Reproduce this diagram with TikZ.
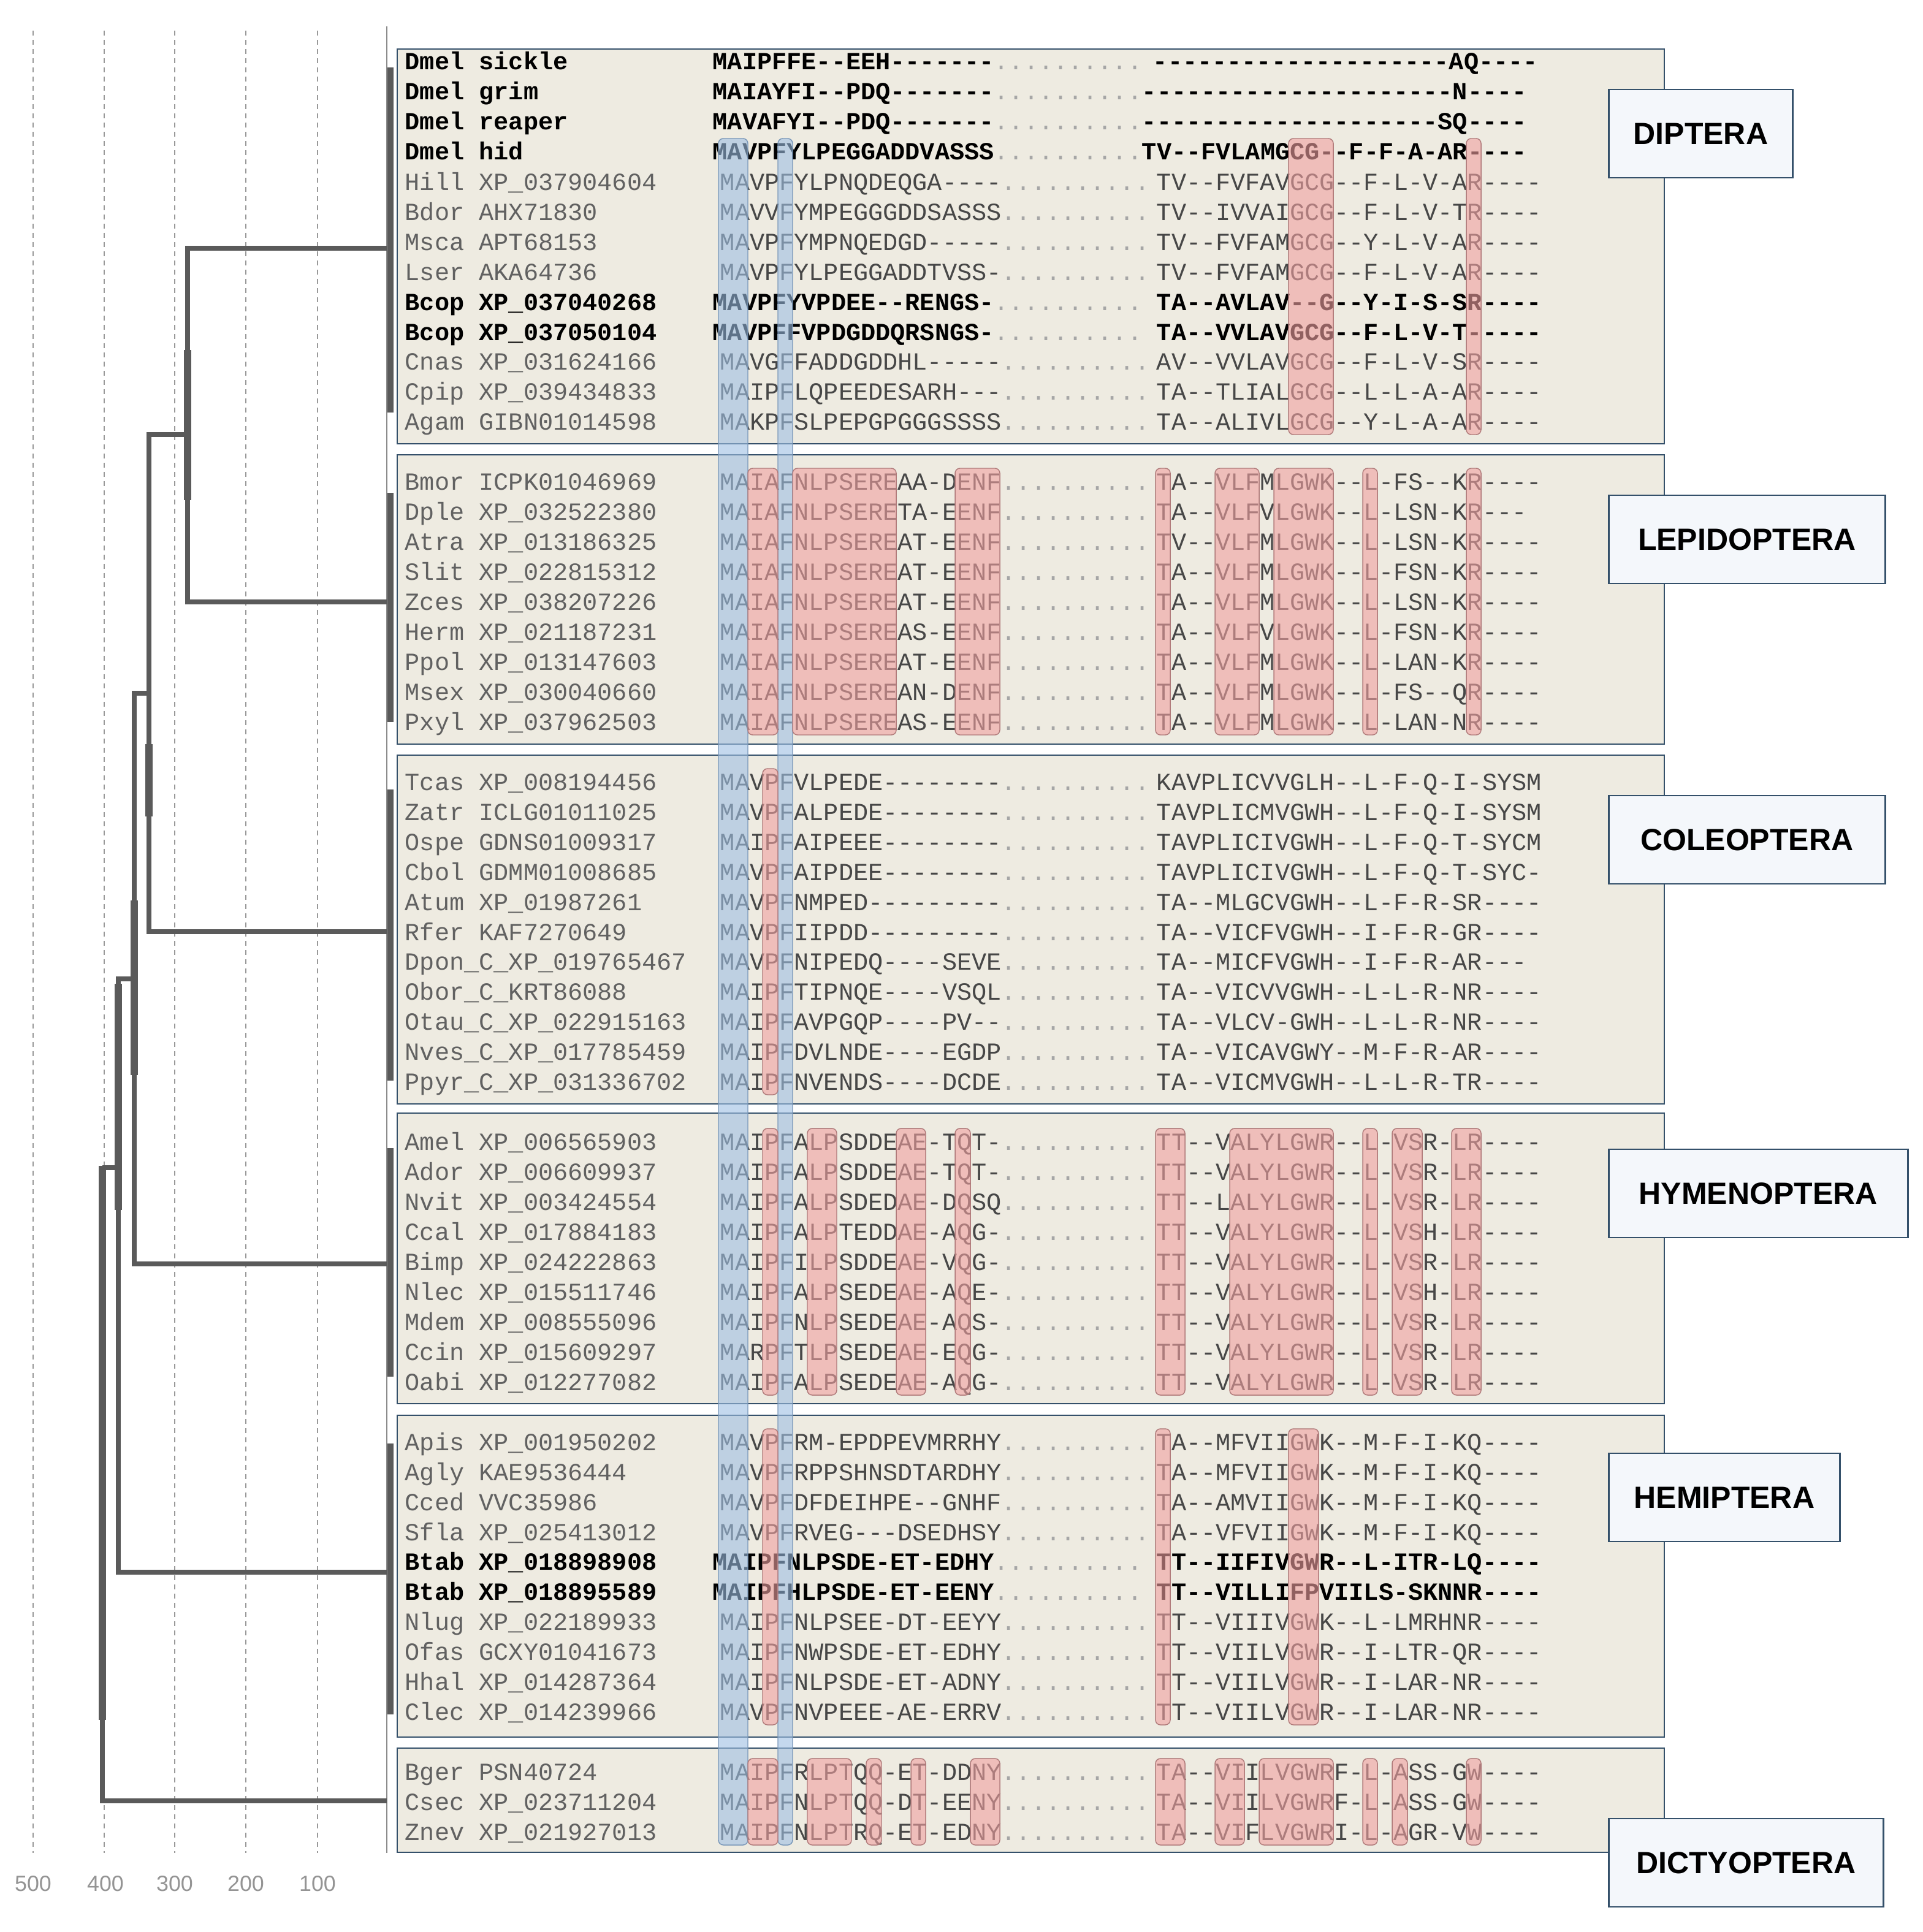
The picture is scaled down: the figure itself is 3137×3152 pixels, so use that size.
\documentclass[tikz,border=0pt]{standalone}
\usepackage{fontspec}
\newfontfamily\seqfont{Liberation Mono}
\newfontfamily\labfont{Liberation Sans}
\definecolor{panelfill}{HTML}{EEEBE1}
\definecolor{panelline}{HTML}{34506A}
\definecolor{treegray}{HTML}{5A5A5A}
\definecolor{pinkfill}{HTML}{F0A0A0}
\definecolor{pinkline}{HTML}{B07A7A}
\definecolor{bluefill}{HTML}{9EBFE3}
\definecolor{blueline}{HTML}{7896B8}
\definecolor{labelfill}{HTML}{F4F7FB}
\newcommand{\gapdots}{\textcolor{black!35}{\mdseries..........}}

\begin{document}
\begin{tikzpicture}[x=0.24pt, y=-0.24pt,
  tree line/.style={line width=2.1pt, treegray, line join=miter},
  node bar/.style={line width=3.1pt, treegray},
  clade bar/.style={line width=2.4pt, treegray},
  grid line/.style={line width=0.45pt, black!40, dash pattern=on 1.9pt off 1.7pt},
  axis line/.style={line width=0.5pt, black!45},
  axis label/.style={font=\labfont\fontsize{8.6}{10}\selectfont, text=black!42},
  panel/.style={fill=panelfill, draw=panelline, line width=0.65pt},
  seq name/.style={anchor=base west, inner sep=0pt, font=\seqfont\fontsize{9.66}{11}\selectfont, text=black!62},
  seq text/.style={seq name, text=black!72},
  bold name/.style={seq name, font=\seqfont\bfseries\fontsize{9.66}{11}\selectfont, text=black},
  pink box/.style={draw=pinkline, fill=pinkfill, fill opacity=0.6, line width=0.35pt, rounded corners=1.9pt},
  blue box/.style={draw=blueline, fill=bluefill, fill opacity=0.6, line width=0.35pt, rounded corners=1.9pt},
  group label/.style={draw=panelline, fill=labelfill, line width=0.65pt, anchor=west, minimum height=34.6pt, inner sep=0pt, font=\labfont\bfseries\fontsize{12}{14}\selectfont}
]
\useasboundingbox (0,0) rectangle (3137,3152);
\fill[white] (0,0) rectangle (3137,3152);

% time axis
\draw[grid line] (54,50) -- (54,3023);
\draw[grid line] (170,50) -- (170,3023);
\draw[grid line] (285,50) -- (285,3023);
\draw[grid line] (401,50) -- (401,3023);
\draw[grid line] (518,50) -- (518,3023);
\node[axis label] (t500) at (54,3073) {500};
\node[axis label] (t400) at (172,3073) {400};
\node[axis label] (t300) at (285,3073) {300};
\node[axis label] (t200) at (401,3073) {200};
\node[axis label] (t100) at (518,3073) {100};

% alignment panels
\draw[panel] (648,80) rectangle (2715,724);
\draw[panel] (648,742) rectangle (2715,1214);
\draw[panel] (648,1232) rectangle (2715,1801);
\draw[panel] (648,1816) rectangle (2715,2290);
\draw[panel] (648,2309) rectangle (2715,2834);
\draw[panel] (648,2852) rectangle (2715,3022);

\draw[axis line] (631,43) -- (631,3023);

% tree
\coordinate (nA) at (306,709);
\coordinate (nB) at (243,1131);
\coordinate (nC) at (219,1597);
\coordinate (nD) at (193,1905);
\coordinate (nE) at (167,1905);
\coordinate (tDip) at (631,405);
\coordinate (tLep) at (631,982);
\coordinate (tCol) at (631,1520);
\coordinate (tHym) at (631,2062);
\coordinate (tHem) at (631,2565);
\coordinate (tDic) at (631,2938);
\draw[tree line] (nA) |- (tDip);
\draw[tree line] (nA) |- (tLep);
\draw[tree line] (nB) |- (nA);
\draw[tree line] (nB) |- (tCol);
\draw[tree line] (nC) |- (nB);
\draw[tree line] (nC) |- (tHym);
\draw[tree line] (nD) |- (nC);
\draw[tree line] (nD) |- (tHem);
\draw[tree line] (nE) |- (nD);
\draw[tree line] (nE) |- (tDic);
\draw[node bar] (306,571) -- (306,816);
\draw[node bar] (243,1214) -- (243,1332);
\draw[node bar] (219,1469) -- (219,1754);
\draw[node bar] (193,1605) -- (193,1974);
\draw[node bar] (167,1902) -- (167,2806);
\draw[clade bar] (637,110) -- (637,673);
\draw[clade bar] (637,804) -- (637,1178);
\draw[clade bar] (637,1288) -- (637,1763);
\draw[clade bar] (637,1873) -- (637,2246);
\draw[clade bar] (637,2355) -- (637,2797);

% Diptera
\node[bold name] (r0n) at (660,114) {Dmel sickle};
\node[bold name] (r0a) at (1162,114) {MAIPFFE--EEH-------\gapdots};
\node[bold name] (r0b) at (1880,114) {--------------------AQ----};
\node[bold name] (r1n) at (660,163) {Dmel grim};
\node[bold name] (r1a) at (1162,163) {MAIAYFI--PDQ-------\gapdots};
\node[bold name] (r1b) at (1862,163) {---------------------N----};
\node[bold name] (r2n) at (660,212) {Dmel reaper};
\node[bold name] (r2a) at (1162,212) {MAVAFYI--PDQ-------\gapdots};
\node[bold name] (r2b) at (1862,212) {--------------------SQ----};
\node[bold name] (r3n) at (660,261) {Dmel hid};
\node[bold name] (r3a) at (1162,261) {MAVPFYLPEGGADDVASSS\gapdots};
\node[bold name] (r3b) at (1862,261) {TV--FVLAMGCG--F-F-A-AR----};
\node[seq name] (r4n) at (660,310) {Hill XP\_037904604};
\node[seq text] (r4a) at (1174,310) {MAVPFYLPNQDEQGA----\gapdots};
\node[seq text] (r4b) at (1886,310) {TV--FVFAVGCG--F-L-V-AR----};
\node[seq name] (r5n) at (660,359) {Bdor AHX71830};
\node[seq text] (r5a) at (1174,359) {MAVVFYMPEGGGDDSASSS\gapdots};
\node[seq text] (r5b) at (1886,359) {TV--IVVAIGCG--F-L-V-TR----};
\node[seq name] (r6n) at (660,408) {Msca APT68153};
\node[seq text] (r6a) at (1174,408) {MAVPFYMPNQEDGD-----\gapdots};
\node[seq text] (r6b) at (1886,408) {TV--FVFAMGCG--Y-L-V-AR----};
\node[seq name] (r7n) at (660,457) {Lser AKA64736};
\node[seq text] (r7a) at (1174,457) {MAVPFYLPEGGADDTVSS-\gapdots};
\node[seq text] (r7b) at (1886,457) {TV--FVFAMGCG--F-L-V-AR----};
\node[bold name] (r8n) at (660,506) {Bcop XP\_037040268};
\node[bold name] (r8a) at (1162,506) {MAVPFYVPDEE--RENGS-\gapdots};
\node[bold name] (r8b) at (1886,506) {TA--AVLAV--G--Y-I-S-SR----};
\node[bold name] (r9n) at (660,555) {Bcop XP\_037050104};
\node[bold name] (r9a) at (1162,555) {MAVPFFVPDGDDQRSNGS-\gapdots};
\node[bold name] (r9b) at (1886,555) {TA--VVLAVGCG--F-L-V-T-----};
\node[seq name] (r10n) at (660,603.5) {Cnas XP\_031624166};
\node[seq text] (r10a) at (1174,603.5) {MAVGFFADDGDDHL-----\gapdots};
\node[seq text] (r10b) at (1886,603.5) {AV--VVLAVGCG--F-L-V-SR----};
\node[seq name] (r11n) at (660,652) {Cpip XP\_039434833};
\node[seq text] (r11a) at (1174,652) {MAIPFLQPEEDESARH---\gapdots};
\node[seq text] (r11b) at (1886,652) {TA--TLIALGCG--L-L-A-AR----};
\node[seq name] (r12n) at (660,701) {Agam GIBN01014598};
\node[seq text] (r12a) at (1174,701) {MAKPFSLPEPGPGGGSSSS\gapdots};
\node[seq text] (r12b) at (1886,701) {TA--ALIVLGCG--Y-L-A-AR----};

% Lepidoptera
\node[seq name] (r14n) at (660,799) {Bmor ICPK01046969};
\node[seq text] (r14a) at (1174,799) {MAIAFNLPSEREAA-DENF\gapdots};
\node[seq text] (r14b) at (1886,799) {TA--VLFMLGWK--L-FS--KR----};
\node[seq name] (r15n) at (660,848) {Dple XP\_032522380};
\node[seq text] (r15a) at (1174,848) {MAIAFNLPSERETA-EENF\gapdots};
\node[seq text] (r15b) at (1886,848) {TA--VLFVLGWK--L-LSN-KR---};
\node[seq name] (r16n) at (660,897) {Atra XP\_013186325};
\node[seq text] (r16a) at (1174,897) {MAIAFNLPSEREAT-EENF\gapdots};
\node[seq text] (r16b) at (1886,897) {TV--VLFMLGWK--L-LSN-KR----};
\node[seq name] (r17n) at (660,946) {Slit XP\_022815312};
\node[seq text] (r17a) at (1174,946) {MAIAFNLPSEREAT-EENF\gapdots};
\node[seq text] (r17b) at (1886,946) {TA--VLFMLGWK--L-FSN-KR----};
\node[seq name] (r18n) at (660,995) {Zces XP\_038207226};
\node[seq text] (r18a) at (1174,995) {MAIAFNLPSEREAT-EENF\gapdots};
\node[seq text] (r18b) at (1886,995) {TA--VLFMLGWK--L-LSN-KR----};
\node[seq name] (r19n) at (660,1044) {Herm XP\_021187231};
\node[seq text] (r19a) at (1174,1044) {MAIAFNLPSEREAS-EENF\gapdots};
\node[seq text] (r19b) at (1886,1044) {TA--VLFVLGWK--L-FSN-KR----};
\node[seq name] (r20n) at (660,1093) {Ppol XP\_013147603};
\node[seq text] (r20a) at (1174,1093) {MAIAFNLPSEREAT-EENF\gapdots};
\node[seq text] (r20b) at (1886,1093) {TA--VLFMLGWK--L-LAN-KR----};
\node[seq name] (r21n) at (660,1142) {Msex XP\_030040660};
\node[seq text] (r21a) at (1174,1142) {MAIAFNLPSEREAN-DENF\gapdots};
\node[seq text] (r21b) at (1886,1142) {TA--VLFMLGWK--L-FS--QR----};
\node[seq name] (r22n) at (660,1191) {Pxyl XP\_037962503};
\node[seq text] (r22a) at (1174,1191) {MAIAFNLPSEREAS-EENF\gapdots};
\node[seq text] (r22b) at (1886,1191) {TA--VLFMLGWK--L-LAN-NR----};

% Coleoptera
\node[seq name] (r24n) at (660,1289) {Tcas XP\_008194456};
\node[seq text] (r24a) at (1174,1289) {MAVPFVLPEDE--------\gapdots};
\node[seq text] (r24b) at (1886,1289) {KAVPLICVVGLH--L-F-Q-I-SYSM};
\node[seq name] (r25n) at (660,1338) {Zatr ICLG01011025};
\node[seq text] (r25a) at (1174,1338) {MAVPFALPEDE--------\gapdots};
\node[seq text] (r25b) at (1886,1338) {TAVPLICMVGWH--L-F-Q-I-SYSM};
\node[seq name] (r26n) at (660,1387) {Ospe GDNS01009317};
\node[seq text] (r26a) at (1174,1387) {MAIPFAIPEEE--------\gapdots};
\node[seq text] (r26b) at (1886,1387) {TAVPLICIVGWH--L-F-Q-T-SYCM};
\node[seq name] (r27n) at (660,1436) {Cbol GDMM01008685};
\node[seq text] (r27a) at (1174,1436) {MAVPFAIPDEE--------\gapdots};
\node[seq text] (r27b) at (1886,1436) {TAVPLICIVGWH--L-F-Q-T-SYC-};
\node[seq name] (r28n) at (660,1485) {Atum XP\_01987261};
\node[seq text] (r28a) at (1174,1485) {MAVPFNMPED---------\gapdots};
\node[seq text] (r28b) at (1886,1485) {TA--MLGCVGWH--L-F-R-SR----};
\node[seq name] (r29n) at (660,1534) {Rfer KAF7270649};
\node[seq text] (r29a) at (1174,1534) {MAVPFIIPDD---------\gapdots};
\node[seq text] (r29b) at (1886,1534) {TA--VICFVGWH--I-F-R-GR----};
\node[seq name] (r30n) at (660,1582) {Dpon\_C\_XP\_019765467};
\node[seq text] (r30a) at (1174,1582) {MAVPFNIPEDQ----SEVE\gapdots};
\node[seq text] (r30b) at (1886,1582) {TA--MICFVGWH--I-F-R-AR---};
\node[seq name] (r31n) at (660,1631) {Obor\_C\_KRT86088};
\node[seq text] (r31a) at (1174,1631) {MAIPFTIPNQE----VSQL\gapdots};
\node[seq text] (r31b) at (1886,1631) {TA--VICVVGWH--L-L-R-NR----};
\node[seq name] (r32n) at (660,1680) {Otau\_C\_XP\_022915163};
\node[seq text] (r32a) at (1174,1680) {MAIPFAVPGQP----PV--\gapdots};
\node[seq text] (r32b) at (1886,1680) {TA--VLCV-GWH--L-L-R-NR----};
\node[seq name] (r33n) at (660,1729) {Nves\_C\_XP\_017785459};
\node[seq text] (r33a) at (1174,1729) {MAIPFDVLNDE----EGDP\gapdots};
\node[seq text] (r33b) at (1886,1729) {TA--VICAVGWY--M-F-R-AR----};
\node[seq name] (r34n) at (660,1778) {Ppyr\_C\_XP\_031336702};
\node[seq text] (r34a) at (1174,1778) {MAIPFNVENDS----DCDE\gapdots};
\node[seq text] (r34b) at (1886,1778) {TA--VICMVGWH--L-L-R-TR----};

% Hymenoptera
\node[seq name] (r36n) at (660,1876) {Amel XP\_006565903};
\node[seq text] (r36a) at (1174,1876) {MAIPFALPSDDEAE-TQT-\gapdots};
\node[seq text] (r36b) at (1886,1876) {TT--VALYLGWR--L-VSR-LR----};
\node[seq name] (r37n) at (660,1925) {Ador XP\_006609937};
\node[seq text] (r37a) at (1174,1925) {MAIPFALPSDDEAE-TQT-\gapdots};
\node[seq text] (r37b) at (1886,1925) {TT--VALYLGWR--L-VSR-LR----};
\node[seq name] (r38n) at (660,1974) {Nvit XP\_003424554};
\node[seq text] (r38a) at (1174,1974) {MAIPFALPSDEDAE-DQSQ\gapdots};
\node[seq text] (r38b) at (1886,1974) {TT--LALYLGWR--L-VSR-LR----};
\node[seq name] (r39n) at (660,2023) {Ccal XP\_017884183};
\node[seq text] (r39a) at (1174,2023) {MAIPFALPTEDDAE-AQG-\gapdots};
\node[seq text] (r39b) at (1886,2023) {TT--VALYLGWR--L-VSH-LR----};
\node[seq name] (r40n) at (660,2072) {Bimp XP\_024222863};
\node[seq text] (r40a) at (1174,2072) {MAIPFILPSDDEAE-VQG-\gapdots};
\node[seq text] (r40b) at (1886,2072) {TT--VALYLGWR--L-VSR-LR----};
\node[seq name] (r41n) at (660,2121) {Nlec XP\_015511746};
\node[seq text] (r41a) at (1174,2121) {MAIPFALPSEDEAE-AQE-\gapdots};
\node[seq text] (r41b) at (1886,2121) {TT--VALYLGWR--L-VSH-LR----};
\node[seq name] (r42n) at (660,2170) {Mdem XP\_008555096};
\node[seq text] (r42a) at (1174,2170) {MAIPFNLPSEDEAE-AQS-\gapdots};
\node[seq text] (r42b) at (1886,2170) {TT--VALYLGWR--L-VSR-LR----};
\node[seq name] (r43n) at (660,2219) {Ccin XP\_015609297};
\node[seq text] (r43a) at (1174,2219) {MARPFTLPSEDEAE-EQG-\gapdots};
\node[seq text] (r43b) at (1886,2219) {TT--VALYLGWR--L-VSR-LR----};
\node[seq name] (r44n) at (660,2268) {Oabi XP\_012277082};
\node[seq text] (r44a) at (1174,2268) {MAIPFALPSEDEAE-AQG-\gapdots};
\node[seq text] (r44b) at (1886,2268) {TT--VALYLGWR--L-VSR-LR----};

% Hemiptera
\node[seq name] (r46n) at (660,2366) {Apis XP\_001950202};
\node[seq text] (r46a) at (1174,2366) {MAVPFRM-EPDPEVMRRHY\gapdots};
\node[seq text] (r46b) at (1886,2366) {TA--MFVIIGWK--M-F-I-KQ----};
\node[seq name] (r47n) at (660,2415) {Agly KAE9536444};
\node[seq text] (r47a) at (1174,2415) {MAVPFRPPSHNSDTARDHY\gapdots};
\node[seq text] (r47b) at (1886,2415) {TA--MFVIIGWK--M-F-I-KQ----};
\node[seq name] (r48n) at (660,2464) {Cced VVC35986};
\node[seq text] (r48a) at (1174,2464) {MAVPFDFDEIHPE--GNHF\gapdots};
\node[seq text] (r48b) at (1886,2464) {TA--AMVIIGWK--M-F-I-KQ----};
\node[seq name] (r49n) at (660,2513) {Sfla XP\_025413012};
\node[seq text] (r49a) at (1174,2513) {MAVPFRVEG---DSEDHSY\gapdots};
\node[seq text] (r49b) at (1886,2513) {TA--VFVIIGWK--M-F-I-KQ----};
\node[bold name] (r50n) at (660,2561) {Btab XP\_018898908};
\node[bold name] (r50a) at (1162,2561) {MAIPFNLPSDE-ET-EDHY\gapdots};
\node[bold name] (r50b) at (1886,2561) {TT--IIFIVGWR--L-ITR-LQ----};
\node[bold name] (r51n) at (660,2610) {Btab XP\_018895589};
\node[bold name] (r51a) at (1162,2610) {MAIPFHLPSDE-ET-EENY\gapdots};
\node[bold name] (r51b) at (1886,2610) {TT--VILLIFPVIILS-SKNNR----};
\node[seq name] (r52n) at (660,2659) {Nlug XP\_022189933};
\node[seq text] (r52a) at (1174,2659) {MAIPFNLPSEE-DT-EEYY\gapdots};
\node[seq text] (r52b) at (1886,2659) {TT--VIIIVGWK--L-LMRHNR----};
\node[seq name] (r53n) at (660,2708) {Ofas GCXY01041673};
\node[seq text] (r53a) at (1174,2708) {MAIPFNWPSDE-ET-EDHY\gapdots};
\node[seq text] (r53b) at (1886,2708) {TT--VIILVGWR--I-LTR-QR----};
\node[seq name] (r54n) at (660,2757) {Hhal XP\_014287364};
\node[seq text] (r54a) at (1174,2757) {MAIPFNLPSDE-ET-ADNY\gapdots};
\node[seq text] (r54b) at (1886,2757) {TT--VIILVGWR--I-LAR-NR----};
\node[seq name] (r55n) at (660,2806) {Clec XP\_014239966};
\node[seq text] (r55a) at (1174,2806) {MAVPFNVPEEE-AE-ERRV\gapdots};
\node[seq text] (r55b) at (1886,2806) {TT--VIILVGWR--I-LAR-NR----};

% Dictyoptera
\node[seq name] (r57n) at (660,2904) {Bger PSN40724};
\node[seq text] (r57a) at (1174,2904) {MAIPFRLPTQQ-ET-DDNY\gapdots};
\node[seq text] (r57b) at (1886,2904) {TA--VIILVGWRF-L-ASS-GW----};
\node[seq name] (r58n) at (660,2953) {Csec XP\_023711204};
\node[seq text] (r58a) at (1174,2953) {MAIPFNLPTQQ-DT-EENY\gapdots};
\node[seq text] (r58b) at (1886,2953) {TA--VIILVGWRF-L-ASS-GW----};
\node[seq name] (r59n) at (660,3002) {Znev XP\_021927013};
\node[seq text] (r59a) at (1174,3002) {MAIPFNLPTRQ-ET-EDNY\gapdots};
\node[seq text] (r59b) at (1886,3002) {TA--VIFLVGWRI-L-AGR-VW----};

% conserved columns
\draw[blue box] (1172,226) rectangle (1220,3010);
\draw[blue box] (1269,226) rectangle (1293,3010);
\draw[pink box] (2102,226) rectangle (2175,709);
\draw[pink box] (2392,226) rectangle (2416,709);

\draw[pink box] (1220,764) rectangle (1269,1199);
\draw[pink box] (1293,764) rectangle (1462,1199);
\draw[pink box] (1558,764) rectangle (1631,1199);
\draw[pink box] (1885,764) rectangle (1909,1199);
\draw[pink box] (1982,764) rectangle (2054,1199);
\draw[pink box] (2078,764) rectangle (2175,1199);
\draw[pink box] (2223,764) rectangle (2247,1199);
\draw[pink box] (2392,764) rectangle (2416,1199);

\draw[pink box] (1244,1254) rectangle (1269,1786);

\draw[pink box] (1244,1841) rectangle (1269,2276);
\draw[pink box] (1317,1841) rectangle (1365,2276);
\draw[pink box] (1462,1841) rectangle (1510,2276);
\draw[pink box] (1558,1841) rectangle (1583,2276);
\draw[pink box] (1885,1841) rectangle (1933,2276);
\draw[pink box] (2006,1841) rectangle (2175,2276);
\draw[pink box] (2223,1841) rectangle (2247,2276);
\draw[pink box] (2271,1841) rectangle (2320,2276);
\draw[pink box] (2368,1841) rectangle (2416,2276);

\draw[pink box] (1244,2331) rectangle (1269,2814);
\draw[pink box] (1885,2331) rectangle (1909,2814);
\draw[pink box] (2102,2331) rectangle (2151,2814);

\draw[pink box] (1220,2869) rectangle (1269,3010);
\draw[pink box] (1317,2869) rectangle (1389,3010);
\draw[pink box] (1413,2869) rectangle (1438,3010);
\draw[pink box] (1486,2869) rectangle (1510,3010);
\draw[pink box] (1583,2869) rectangle (1631,3010);
\draw[pink box] (1885,2869) rectangle (1933,3010);
\draw[pink box] (1982,2869) rectangle (2030,3010);
\draw[pink box] (2054,2869) rectangle (2175,3010);
\draw[pink box] (2223,2869) rectangle (2247,3010);
\draw[pink box] (2271,2869) rectangle (2296,3010);
\draw[pink box] (2392,2869) rectangle (2416,3010);

% group labels
\node[group label, minimum width=72pt] (gDip) at (2623,218) {DIPTERA};
\node[group label, minimum width=108.2pt] (gLep) at (2623,880) {LEPIDOPTERA};
\node[group label, minimum width=108.2pt] (gCol) at (2623,1370) {COLEOPTERA};
\node[group label, minimum width=117.1pt] (gHym) at (2623,1947) {HYMENOPTERA};
\node[group label, minimum width=90.5pt] (gHem) at (2623,2443) {HEMIPTERA};
\node[group label, minimum width=107.5pt] (gDic) at (2623,3039) {DICTYOPTERA};

\end{tikzpicture}
\end{document}
